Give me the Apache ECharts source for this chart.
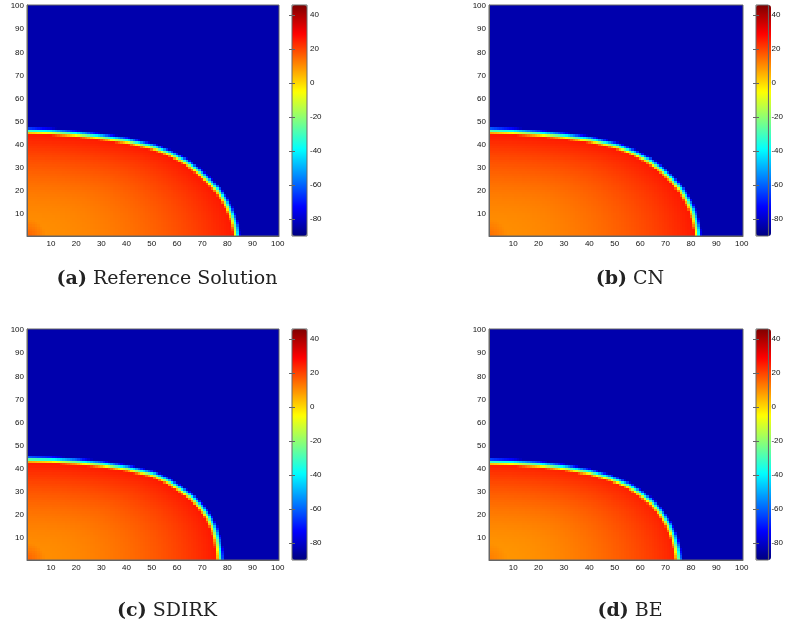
<!DOCTYPE html>
<html lang="en">
<head>
    <meta charset="UTF-8">
    <title>Front comparison</title>
    <script src="https://cdn.jsdelivr.net/npm/echarts@6/dist/echarts.min.js"></script>
    <style>
        html, body { margin: 0; padding: 0; background: #fff; }
        #graph { width: 786px; height: 633px; }
    </style>
</head>
<body>
<div id="graph"></div>
<script>
    // tick labels
    var axisTicks = [10, 20, 30, 40, 50, 60, 70, 80, 90, 100];
    var colorbarTicks = [-80, -60, -40, -20, 0, 20, 40];
    var colorMin = -90, colorMax = 46;

    var captionTag = ['(a)', '(b)', '(c)', '(d)'];
    var captionText = ['Reference Solution', 'CN', 'SDIRK', 'BE'];

    // front position, [x, y] from the left edge down to the bottom edge
    var frontA = [[0,45.2],[10,44.8],[20,43.9],[30,42.6],[40,41],[50,38.5],[57,35.5],[63,32],[68,28],[72,24],[75.5,20],[78,16],[80,12],[81.5,8],[82.5,4],[83,0]];
    var frontB = [[0,45.3],[10,44.9],[20,44.1],[30,43],[40,41.5],[50,39],[57,36],[63,32.5],[68,28.5],[72,24.5],[75.5,20],[78,15.5],[80,11],[81,7],[81.8,3],[82,0]];
    var frontC = [[0,43.3],[10,43],[20,42.3],[30,41.2],[40,39.5],[50,37],[56,34],[61,30.5],[65.5,27],[69,23],[72,18.5],[74,14],[75.3,9],[76,4],[76.3,0]];
    var frontD = [[0,42.2],[10,41.9],[20,41.1],[30,39.8],[40,37.8],[48,35.3],[55,32],[60,28.5],[64,25],[67.5,20.5],[70.5,15.5],[72.5,10.5],[73.8,5],[74.5,0]];

    // values: core (orange), behind the front (red), resting (blue)
    var coreValue = [10, 10, 10, 9];
    var frontValue = [26, 26, 26, 25];
    var restValue = [-84, -84, -84, -84];
    var cornerValue = [17, 15, 17, 13];

    var fronts = [frontA, frontB, frontC, frontD];

    var jet = ['#000080', '#0000ff', '#0080ff', '#00ffff', '#80ff80', '#ffff00', '#ff8000', '#ff0000', '#800000'];

    var plots = [
        {left: 27, top: 5, width: 252, height: 231},
        {left: 489, top: 5, width: 254, height: 231},
        {left: 27, top: 329, width: 252, height: 231},
        {left: 489, top: 329, width: 254, height: 231}
    ];
    var bars = [
        {left: 292, top: 5, width: 15, height: 231},
        {left: 756, top: 5, width: 15, height: 231},
        {left: 292, top: 329, width: 15, height: 231},
        {left: 756, top: 329, width: 15, height: 231}
    ];

    // distance along the ray from the corner to where it meets the front
    function rayHit(poly, c, s) {
        for (var k = 0; k < poly.length - 1; k++) {
            var px = poly[k][0], py = poly[k][1];
            var dx = poly[k + 1][0] - px, dy = poly[k + 1][1] - py;
            var det = dx * s - c * dy;
            if (Math.abs(det) < 1e-9) continue;
            var t = (dx * py - px * dy) / det;
            var u = (c * py - s * px) / det;
            if (u >= -1e-6 && u <= 1 + 1e-6 && t > 0) return t;
        }
        return poly[poly.length - 1][0];
    }

    // shortest distance from a cell to the front line
    function frontDist(poly, x, y) {
        var best = 1e9;
        for (var k = 0; k < poly.length - 1; k++) {
            var px = poly[k][0], py = poly[k][1];
            var dx = poly[k + 1][0] - px, dy = poly[k + 1][1] - py;
            var u = ((x - px) * dx + (y - py) * dy) / (dx * dx + dy * dy);
            u = Math.max(0, Math.min(1, u));
            var ex = px + u * dx - x, ey = py + u * dy - y;
            best = Math.min(best, Math.sqrt(ex * ex + ey * ey));
        }
        return best;
    }

    function buildField(n) {
        var poly = fronts[n];
        var out = [];
        for (var i = 1; i <= 100; i++) {
            for (var j = 1; j <= 100; j++) {
                var r = Math.sqrt(i * i + j * j);
                var R = rayHit(poly, i / r, j / r);
                var s = Math.min(r / R, 1);
                var inner = coreValue[n] + (frontValue[n] - coreValue[n]) * s * s;
                if (r < 8) inner += (cornerValue[n] - coreValue[n]) * (1 - r / 8);
                var d = frontDist(poly, i, j) * (r < R ? -1 : 1);
                var t = Math.max(0, Math.min(1, (d + 0.8) / 3.2));
                var v = inner * (1 - t) + restValue[n] * t;
                out.push([i - 1, j - 1, +v.toFixed(2)]);
            }
        }
        return out;
    }

    // one cell, edges snapped to whole pixels so neighbours meet without seams
    function renderCell(params, api) {
        var c = api.coord([api.value(0), api.value(1)]);
        var sz = api.size([1, 1]);
        var x0 = Math.round(c[0] - sz[0] / 2), x1 = Math.round(c[0] + sz[0] / 2);
        var y0 = Math.round(c[1] - sz[1] / 2), y1 = Math.round(c[1] + sz[1] / 2);
        return {
            type: 'rect',
            shape: {x: x0, y: y0, width: x1 - x0, height: y1 - y0},
            style: {fill: api.visual('color')}
        };
    }

    var cats = [];
    for (var q = 1; q <= 100; q++) cats.push(String(q));
    function tickShown(idx) { return axisTicks.indexOf(idx + 1) >= 0; }

    var grid = [], xAxis = [], yAxis = [], series = [], visualMap = [], title = [];
    for (var n = 0; n < 4; n++) {
        grid.push({left: plots[n].left, top: plots[n].top, width: plots[n].width, height: plots[n].height,
            show: true, borderColor: '#666', borderWidth: 1, z: 5});
        xAxis.push({
            type: 'category', gridIndex: n, data: cats, z: 5,
            axisLine: {lineStyle: {color: '#666'}},
            axisTick: {inside: true, length: 3, alignWithLabel: true, interval: tickShown, lineStyle: {color: '#666'}},
            axisLabel: {interval: tickShown, fontSize: 8, color: '#111', fontFamily: 'Liberation Sans', margin: 4},
            splitLine: {show: false}
        });
        yAxis.push({
            type: 'category', gridIndex: n, data: cats, z: 5,
            axisLine: {lineStyle: {color: '#666'}},
            axisTick: {inside: true, length: 3, alignWithLabel: true, interval: tickShown, lineStyle: {color: '#666'}},
            axisLabel: {interval: tickShown, fontSize: 8, color: '#111', fontFamily: 'Liberation Sans', margin: 3},
            splitLine: {show: false}
        });
        series.push({
            type: 'custom', xAxisIndex: n, yAxisIndex: n,
            data: buildField(n), encode: {x: 0, y: 1},
            renderItem: renderCell, progressive: 0, animation: false, silent: true
        });
        visualMap.push({
            type: 'continuous', seriesIndex: n, dimension: 2, min: colorMin, max: colorMax,
            calculable: false, orient: 'vertical', padding: 0,
            left: bars[n].left, top: bars[n].top,
            itemWidth: bars[n].width, itemHeight: bars[n].height,
            inRange: {color: jet}, hoverLink: false
        });
        title.push({
            text: '{b|' + captionTag[n] + '} ' + captionText[n],
            left: (plots[n].left + bars[n].left + bars[n].width) / 2,
            textAlign: 'center',
            top: n < 2 ? 270 : 602,
            padding: 0,
            textStyle: {
                fontFamily: 'DejaVu Serif', fontSize: 19, fontWeight: 'normal', color: '#222',
                rich: {b: {fontFamily: 'DejaVu Serif', fontSize: 19, fontWeight: 'bold', color: '#222'}}
            }
        });
    }

    // colorbar frames with their tick axes
    for (var m = 0; m < 4; m++) {
        var g = 4 + m;
        grid.push({left: bars[m].left, top: bars[m].top, width: bars[m].width, height: bars[m].height,
            show: true, borderColor: '#666', borderWidth: 1, z: 10});
        xAxis.push({type: 'value', gridIndex: g, show: false});
        yAxis.push({
            type: 'value', gridIndex: g, position: 'right', min: colorMin, max: colorMax, z: 10,
            axisLine: {show: false}, splitLine: {show: false},
            axisTick: {inside: true, length: 3, customValues: colorbarTicks, lineStyle: {color: '#666'}},
            axisLabel: {customValues: colorbarTicks, fontSize: 8, color: '#111', fontFamily: 'Liberation Sans', margin: 3}
        });
        yAxis.push({
            type: 'value', gridIndex: g, position: 'left', min: colorMin, max: colorMax, z: 10,
            axisLine: {show: false}, splitLine: {show: false},
            axisTick: {inside: true, length: 3, customValues: colorbarTicks, lineStyle: {color: '#666'}},
            axisLabel: {show: false}
        });
    }

    var myChart = echarts.init(document.getElementById('graph'));
    myChart.setOption({
        animation: false,
        title: title,
        grid: grid,
        xAxis: xAxis,
        yAxis: yAxis,
        visualMap: visualMap,
        series: series
    });
</script>
</body>
</html>
